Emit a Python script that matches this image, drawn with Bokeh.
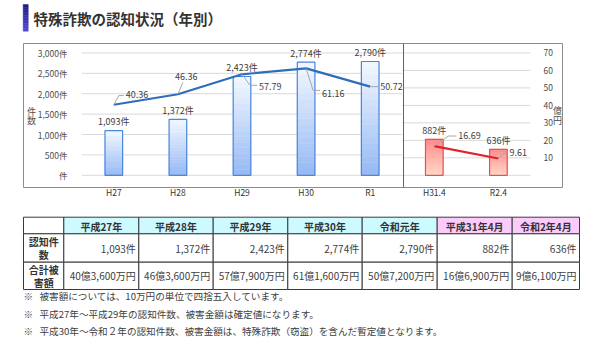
from bokeh.plotting import figure
from bokeh.layouts import column
from bokeh.models import (Range1d, LinearAxis, FixedTicker, CustomJSTickFormatter, Span, ColumnDataSource)
from bokeh.embed import file_html
from bokeh.resources import INLINE
from bokeh.core.properties import value

FONT = "Noto Sans CJK JP"

# ---------------- data ----------------
title_text = "特殊詐欺の認知状況（年別）"
year_cats = ["H27", "H28", "H29", "H30", "R1"]
month_cats = ["H31.4", "R2.4"]
year_counts = [1093, 1372, 2423, 2774, 2790]
month_counts = [882, 636]
year_amounts = [40.36, 46.36, 57.79, 61.16, 50.72]
month_amounts = [16.69, 9.61]
count_ticks = [0, 500, 1000, 1500, 2000, 2500, 3000]
amount_ticks = [0, 10, 20, 30, 40, 50, 60, 70]
count_axis_title = ["件", "数"]
amount_axis_title = ["億", "円"]
table_headers = ["平成27年", "平成28年", "平成29年", "平成30年", "令和元年", "平成31年4月", "令和2年4月"]
row_labels = [["認知件", "数"], ["合計被", "害額"]]
notes = [
    "被害額については、10万円の単位で四捨五入しています。",
    "平成27年～平成29年の認知件数、被害金額は確定値になります。",
    "平成30年～令和２年の認知件数、被害金額は、特殊詐欺（窃盗）を含んだ暫定値となります。",
]

all_cats = year_cats + month_cats
all_counts = year_counts + month_counts
all_amounts = year_amounts + month_amounts
year_x = list(range(len(year_cats)))
month_x = list(range(len(year_cats), len(all_cats)))
all_x = year_x + month_x


def mix(c1, c2, t):
    a = [int(c1[i:i + 2], 16) for i in (1, 3, 5)]
    b = [int(c2[i:i + 2], 16) for i in (1, 3, 5)]
    return "#%02x%02x%02x" % tuple(round(a[i] + (b[i] - a[i]) * t) for i in range(3))


def fmt_count(v):
    return f"{v:,}件"


def fmt_amount(v):
    oku = int(v)
    man = round((v - oku) * 10000)
    return f"{oku}億{man:,}万円"


def bare(fig):
    fig.axis.visible = False
    fig.grid.visible = False
    fig.outline_line_color = None
    return fig


# ---------------- title ----------------
tfig = bare(figure(width=600, height=43, x_range=Range1d(0, 600), y_range=Range1d(43, 0),
                   output_backend="svg", toolbar_location=None, min_border=0, frame_align=False))
nb = 10
tfig.quad(left=22.7, right=27.7, top=[4 + 26.7 * k / nb for k in range(nb)],
          bottom=[4 + 26.7 * (k + 1) / nb for k in range(nb)],
          color=[mix("#1d1d7a", "#5548d6", (k + 0.5) / nb) for k in range(nb)], line_width=0.5)
tfig.text(x=[33], y=[17.8], text=[title_text], text_font=value(FONT), text_font_size="14.5px",
          text_font_style="bold", text_color="#333333", text_baseline="middle")

# ---------------- chart (frame = framed box) ----------------
BOX_L, BOX_R, CH_H = 23, 562, 157
CENTER0, PX = 113.3, 64.1          # pixel x of first category, pixels per category
ZERO_PX, TOP_PX = 143.7, 10.3      # pixel y (from box top) of value 0 and of axis max
PLOT_H = ZERO_PX - TOP_PX
C_MAX, A_MAX = 3000, 70
cpp = C_MAX / PLOT_H
app = A_MAX / PLOT_H

chart = figure(width=600, height=CH_H,
               x_range=Range1d((BOX_L - CENTER0) / PX, (BOX_R - CENTER0) / PX),
               y_range=Range1d(-(CH_H - ZERO_PX) * cpp, C_MAX + TOP_PX * cpp),
               output_backend="svg", toolbar_location=None, frame_align=False,
               min_border_left=BOX_L, min_border_right=600 - BOX_R,
               min_border_top=0, min_border_bottom=0)
chart.extra_y_ranges = {"amt": Range1d(-(CH_H - ZERO_PX) * app, A_MAX + TOP_PX * app)}
chart.outline_line_color = "#8c8c8c"
chart.grid.visible = False

lab_style = dict(major_label_text_font=FONT, major_label_text_font_size="8.5px",
                 major_label_text_color="#4d4d4d", axis_line_color=None,
                 major_tick_line_color=None, minor_tick_line_color=None)

yax = chart.yaxis[0]
yax.ticker = FixedTicker(ticks=count_ticks)
yax.formatter = CustomJSTickFormatter(code=r"""
if (Math.abs(tick) < 1e-6) { return "件"; }
return Math.round(tick).toString().replace(/\B(?=(\d{3})+(?!\d))/g, ",") + "件";
""")
yax.major_label_standoff = -50
for k, v in lab_style.items():
    setattr(yax, k, v)

xax = chart.xaxis[0]
xax.ticker = FixedTicker(ticks=all_x)
xax.formatter = CustomJSTickFormatter(args=dict(labels=all_cats),
                                      code="return labels[Math.round(tick)] || '';")
xax.major_label_standoff = -8
for k, v in lab_style.items():
    setattr(xax, k, v)
xax.major_label_text_color = "#333333"

rax = LinearAxis(y_range_name="amt", ticker=FixedTicker(ticks=amount_ticks[1:]),
                 major_label_standoff=-25, **lab_style)
chart.add_layout(rax, "right")

# grid lines per panel
split = len(year_cats) - 0.5
chart.segment(x0=-0.5, x1=split, y0=count_ticks, y1=count_ticks, line_color="#d9d9d9", line_width=1)
chart.segment(x0=split, x1=len(all_cats) - 0.5, y0=amount_ticks, y1=amount_ticks,
              y_range_name="amt", line_color="#d9d9d9", line_width=1)
chart.add_layout(Span(location=split + 0.02, dimension="height", line_color="#606060", line_width=1))


# gradient bars
def gradient_bars(xs_in, vals, c_bottom, c_top, n=18):
    xs, bots, tops, cols = [], [], [], []
    for c, v in zip(xs_in, vals):
        for k in range(n):
            xs.append(c)
            bots.append(v * k / n)
            tops.append(v * (k + 1) / n)
            cols.append(mix(c_bottom, c_top, (k + 0.5) / n))
    return ColumnDataSource(dict(x=xs, bottom=bots, top=tops, color=cols))


BW = 0.275
chart.vbar(x="x", bottom="bottom", top="top", width=BW, fill_color="color", line_color="color",
           line_width=0.6, source=gradient_bars(year_x, year_counts, "#95b9f4", "#f3f8ff"))
chart.vbar(x=year_x, top=year_counts, width=BW, fill_color=None, line_color="#4a86dc", line_width=1.2)
chart.vbar(x="x", bottom="bottom", top="top", width=BW, fill_color="color", line_color="color",
           line_width=0.6, source=gradient_bars(month_x, month_counts, "#ffd9c6", "#ff8a8a"))
chart.vbar(x=month_x, top=month_counts, width=BW, fill_color=None, line_color="#e5505a", line_width=1.2)

# count labels
chart.text(x=all_x, y=all_counts, text=[fmt_count(v) for v in all_counts], y_offset=-9,
           text_font=value(FONT), text_font_size="9px", text_color="#404040",
           text_align="center", text_baseline="middle")

# lines
chart.line(x=year_x, y=year_amounts, y_range_name="amt", line_color="#2e6db8", line_width=2.2)
chart.line(x=month_x, y=month_amounts, y_range_name="amt", line_color="#e3202a", line_width=2.2)

# amount labels with leader lines (offsets in pixels, style only)
leader_paths = [
    [(0, 0), (5, -10), (10, -10)],
    [(0, 0), (5, -13)],
    [(0, 0), (8, 12), (15, 12)],
    [(0, 0), (7, 24), (14, 24)],
    [(0, 0), (8, 0)],
    [(0, 0), (14, -11), (22, -11)],
    [(0, 0), (6, -6), (9, -6)],
]
label_offsets = [(12, -10), (-3, -18), (17, 12), (16, 25), (10, 0), (24, -11), (11, -6)]

for xi, a, path in zip(all_x, all_amounts, leader_paths):
    chart.line(x=[xi + dx / PX for dx, dy in path], y=[a - dy * app for dx, dy in path],
               y_range_name="amt", line_color="#a6a6a6", line_width=1)

chart.text(x=all_x, y=all_amounts, y_range_name="amt", text=[f"{a:.2f}" for a in all_amounts],
           x_offset=[o[0] for o in label_offsets], y_offset=[o[1] for o in label_offsets],
           text_font=value(FONT), text_font_size="9px", text_color="#404040",
           text_align="left", text_baseline="middle")

# axis titles (vertical, upright characters)
TITLE_Y = (ZERO_PX - 79) * cpp
chart.text(x=[(31 - CENTER0) / PX] * 2, y=[TITLE_Y] * 2, text=count_axis_title, y_offset=[-4.5, 4.5],
           text_font=value(FONT), text_font_size="9px", text_color="#4d4d4d",
           text_align="center", text_baseline="middle")
chart.text(x=[(557 - CENTER0) / PX] * 2, y=[TITLE_Y] * 2, text=amount_axis_title, y_offset=[-5, 5],
           text_font=value(FONT), text_font_size="9px", text_color="#4d4d4d",
           text_align="center", text_baseline="middle")

# ---------------- table + notes ----------------
bfig = bare(figure(width=600, height=143, x_range=Range1d(0, 600), y_range=Range1d(143, 0),
                   output_backend="svg", toolbar_location=None, min_border=0, frame_align=False))

col_edges = [23, 63.3, 138.3, 212.7, 287.3, 361.7, 436.7, 511.7, 579]
row_edges = [16.7, 33.3, 61.7, 89]
head_cols = ["#ffffff"] + ["#ccfaff"] * len(year_cats) + ["#fbccfb"] * len(month_cats)

lefts, rights, tops, bots, fills = [], [], [], [], []
for r in range(3):
    for c in range(len(col_edges) - 1):
        lefts.append(col_edges[c]); rights.append(col_edges[c + 1])
        tops.append(row_edges[r]); bots.append(row_edges[r + 1])
        fills.append(head_cols[c] if r == 0 else "#ffffff")
bfig.quad(left=lefts, right=rights, top=tops, bottom=bots, fill_color=fills,
          line_color="#3a3a3a", line_width=1)

centers = [(col_edges[c] + col_edges[c + 1]) / 2 for c in range(len(col_edges) - 1)]
mids = [(row_edges[r] + row_edges[r + 1]) / 2 for r in range(3)]
bfig.text(x=centers[1:], y=[mids[0] + 0.5] * len(table_headers),
          text=table_headers, text_font=value(FONT), text_font_size="10px", text_font_style="bold",
          text_color="#333333", text_align="center", text_baseline="middle")
rl_text, rl_y, rl_off = [], [], []
for r, lines in enumerate(row_labels):
    for j, s in enumerate(lines):
        rl_text.append(s); rl_y.append(mids[r + 1]); rl_off.append(-6.2 if j == 0 else 6.2)
bfig.text(x=[centers[0]] * len(rl_text), y=rl_y, y_offset=rl_off, text=rl_text,
          text_font=value(FONT), text_font_size="10px", text_font_style="bold",
          text_color="#333333", text_align="center", text_baseline="middle")
bfig.text(x=[e - 3 for e in col_edges[2:]], y=[mids[1]] * len(all_counts),
          text=[fmt_count(v) for v in all_counts], text_font=value(FONT), text_font_size="10px",
          text_color="#404040", text_align="right", text_baseline="middle")
bfig.text(x=[e - 3 for e in col_edges[2:]], y=[mids[2]] * len(all_amounts),
          text=[fmt_amount(v) for v in all_amounts], text_font=value(FONT), text_font_size="10px",
          text_color="#404040", text_align="right", text_baseline="middle")

note_y = [95.7, 113.3, 130]
bfig.text(x=[23] * len(notes), y=note_y, text=["※"] * len(notes), text_font=value(FONT),
          text_font_size="9.6px", text_color="#505050", text_baseline="middle")
bfig.text(x=[39] * len(notes), y=note_y, text=notes, text_font=value(FONT),
          text_font_size="9.6px", text_color="#404040", text_baseline="middle")

layout = column(tfig, chart, bfig, spacing=0)
open("out.html", "w").write(file_html(layout, INLINE))
